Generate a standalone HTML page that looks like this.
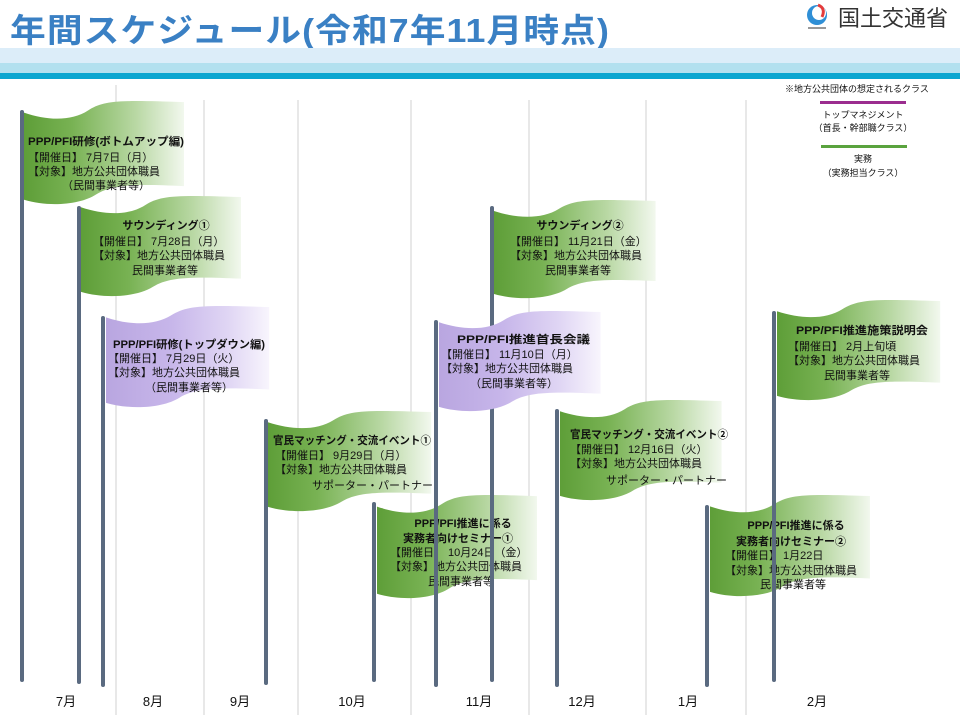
<!DOCTYPE html>
<html><head><meta charset="utf-8"><style>
html,body{margin:0;padding:0;background:#fff;}
svg{display:block;}
text{font-family:"Liberation Sans","Noto Sans CJK JP",sans-serif;fill:#111;}
.t{font-size:11px;font-weight:bold;}
.b{font-size:11px;}
.m{font-size:13px;}
</style></head><body>
<svg width="960" height="720" viewBox="0 0 960 720" xmlns="http://www.w3.org/2000/svg">
<defs>
<linearGradient id="g" x1="0" y1="0" x2="1" y2="0">
<stop offset="0" stop-color="#5e9e38"/><stop offset="0.3" stop-color="#78b253"/><stop offset="0.7" stop-color="#b9d8a4"/><stop offset="1" stop-color="#f2f8ee"/>
</linearGradient>
<linearGradient id="p" x1="0" y1="0" x2="1" y2="0">
<stop offset="0" stop-color="#b9a6e0"/><stop offset="0.4" stop-color="#c7b6ea"/><stop offset="0.75" stop-color="#e0d6f4"/><stop offset="1" stop-color="#f8f5fd"/>
</linearGradient>
<path id="flag" d="M0,12 C24,20 48,20 64,10 C80,0 96,0 160,2 L160,82 C112,80 88,80 72,90 C56,100 24,102 0,95 Z"/>
</defs>
<!-- header -->
<text x="10" y="42" style="font-size:33px;font-weight:bold;fill:#3a80c4;letter-spacing:1px" textLength="600" lengthAdjust="spacingAndGlyphs">年間スケジュール(令和7年11月時点)</text>
<circle cx="817" cy="15" r="10" fill="#2f8fd6"/>
<circle cx="819" cy="13" r="7" fill="#fff"/>
<path d="M818,5 q8,3 4,12" stroke="#e43b3b" stroke-width="3" fill="none"/>
<rect x="808" y="27" width="18" height="2" fill="#999"/>
<text x="838" y="26" style="font-size:22px;fill:#333">国土交通省</text>
<rect x="0" y="48" width="960" height="15" fill="#dcedf9"/>
<rect x="0" y="63" width="960" height="10" fill="#b2e0ef"/>
<rect x="0" y="73" width="960" height="6" fill="#0aa6d0"/>
<!-- legend -->
<text x="785" y="92" style="font-size:9px">※地方公共団体の想定されるクラス</text>
<rect x="820" y="101" width="86" height="3" fill="#9b2d8f"/>
<text x="863" y="118" text-anchor="middle" style="font-size:9px">トップマネジメント</text>
<text x="863" y="131" text-anchor="middle" style="font-size:9px">（首長・幹部職クラス）</text>
<rect x="821" y="145" width="86" height="3" fill="#5aa33e"/>
<text x="863" y="162" text-anchor="middle" style="font-size:9px">実務</text>
<text x="863" y="176" text-anchor="middle" style="font-size:9px">（実務担当クラス）</text>
<!-- grid -->
<g stroke="#d0d0d0" stroke-width="1">
<line x1="116" y1="85" x2="116" y2="715"/><line x1="204" y1="100" x2="204" y2="715"/>
<line x1="298" y1="100" x2="298" y2="715"/><line x1="411" y1="100" x2="411" y2="715"/>
<line x1="529" y1="100" x2="529" y2="715"/><line x1="646" y1="100" x2="646" y2="715"/>
<line x1="746" y1="100" x2="746" y2="715"/>
</g>
<g stroke="#5a6a80" stroke-width="4" stroke-linecap="round">
<!-- F1 -->
<line x1="22" y1="112" x2="22" y2="680"/>
</g>
<use href="#flag" transform="translate(24,100) scale(1,1.05)" fill="url(#g)"/>
<text class="t" x="28" y="145" textLength="156" lengthAdjust="spacingAndGlyphs">PPP/PFI研修(ボトムアップ編)</text>
<text class="b" x="28" y="161">【開催日】 7月7日（月）</text>
<text class="b" x="28" y="175">【対象】地方公共団体職員</text>
<text class="b" x="62" y="189">（民間事業者等）</text>
<!-- F2 -->
<line x1="79" y1="208" x2="79" y2="682" stroke="#5a6a80" stroke-width="4" stroke-linecap="round"/>
<use href="#flag" transform="translate(81,195) scale(1,1.02)" fill="url(#g)"/>
<text class="t" x="166" y="229" text-anchor="middle">サウンディング①</text>
<text class="b" x="93" y="245">【開催日】 7月28日（月）</text>
<text class="b" x="93" y="259">【対象】地方公共団体職員</text>
<text class="b" x="132" y="274">民間事業者等</text>
<!-- F3 -->
<line x1="103" y1="318" x2="103" y2="685" stroke="#5a6a80" stroke-width="4" stroke-linecap="round"/>
<use href="#flag" transform="translate(106,305) scale(1.02,1.03)" fill="url(#p)"/>
<text class="t" x="113" y="348" textLength="152" lengthAdjust="spacingAndGlyphs">PPP/PFI研修(トップダウン編)</text>
<text class="b" x="108" y="362">【開催日】 7月29日（火）</text>
<text class="b" x="108" y="376">【対象】地方公共団体職員</text>
<text class="b" x="145" y="391">（民間事業者等）</text>
<!-- F4 -->
<line x1="266" y1="421" x2="266" y2="683" stroke="#5a6a80" stroke-width="4" stroke-linecap="round"/>
<use href="#flag" transform="translate(268,410) scale(1.02,1.02)" fill="url(#g)"/>
<text class="t" x="273" y="444" textLength="158" lengthAdjust="spacingAndGlyphs">官民マッチング・交流イベント①</text>
<text class="b" x="275" y="459">【開催日】 9月29日（月）</text>
<text class="b" x="275" y="473">【対象】地方公共団体職員</text>
<text class="b" x="312" y="489">サポーター・パートナー</text>
<!-- F5 -->
<line x1="374" y1="504" x2="374" y2="680" stroke="#5a6a80" stroke-width="4" stroke-linecap="round"/>
<use href="#flag" transform="translate(377,494) scale(1,1.05)" fill="url(#g)"/>
<text class="t" x="463" y="527" text-anchor="middle">PPP/PFI推進に係る</text>
<text class="t" x="458" y="542" text-anchor="middle">実務者向けセミナー①</text>
<text class="b" x="390" y="556">【開催日】 10月24日（金）</text>
<text class="b" x="390" y="570">【対象】地方公共団体職員</text>
<text class="b" x="428" y="585">民間事業者等</text>
<!-- F7 -->
<line x1="492" y1="208" x2="492" y2="680" stroke="#5a6a80" stroke-width="4" stroke-linecap="round"/>
<use href="#flag" transform="translate(494,199) scale(1.01,1.0)" fill="url(#g)"/>
<text class="t" x="580" y="229" text-anchor="middle">サウンディング②</text>
<text class="b" x="510" y="245">【開催日】 11月21日（金）</text>
<text class="b" x="510" y="259">【対象】地方公共団体職員</text>
<text class="b" x="545" y="274">民間事業者等</text>
<!-- F6 -->
<line x1="436" y1="322" x2="436" y2="685" stroke="#5a6a80" stroke-width="4" stroke-linecap="round"/>
<use href="#flag" transform="translate(439,310) scale(1.01,1.02)" fill="url(#p)"/>
<text class="t" x="457" y="343" textLength="133" lengthAdjust="spacingAndGlyphs">PPP/PFI推進首長会議</text>
<text class="b" x="441" y="358">【開催日】 11月10日（月）</text>
<text class="b" x="441" y="372">【対象】地方公共団体職員</text>
<text class="b" x="470" y="387">（民間事業者等）</text>
<!-- F8 -->
<line x1="557" y1="411" x2="557" y2="685" stroke="#5a6a80" stroke-width="4" stroke-linecap="round"/>
<use href="#flag" transform="translate(560,399) scale(1.01,1.02)" fill="url(#g)"/>
<text class="t" x="570" y="438" textLength="158" lengthAdjust="spacingAndGlyphs">官民マッチング・交流イベント②</text>
<text class="b" x="570" y="453">【開催日】 12月16日（火）</text>
<text class="b" x="570" y="467">【対象】地方公共団体職員</text>
<text class="b" x="606" y="484">サポーター・パートナー</text>
<!-- F9 -->
<line x1="707" y1="507" x2="707" y2="685" stroke="#5a6a80" stroke-width="4" stroke-linecap="round"/>
<use href="#flag" transform="translate(710,494) scale(1.0,1.03)" fill="url(#g)"/>
<text class="t" x="796" y="529" text-anchor="middle">PPP/PFI推進に係る</text>
<text class="t" x="791" y="545" text-anchor="middle">実務者向けセミナー②</text>
<text class="b" x="725" y="559">【開催日】 1月22日</text>
<text class="b" x="725" y="574">【対象】地方公共団体職員</text>
<text class="b" x="760" y="588">民間事業者等</text>
<!-- F10 -->
<line x1="774" y1="313" x2="774" y2="680" stroke="#5a6a80" stroke-width="4" stroke-linecap="round"/>
<use href="#flag" transform="translate(777,299) scale(1.02,1.02)" fill="url(#g)"/>
<text class="t" x="796" y="334" textLength="132" lengthAdjust="spacingAndGlyphs">PPP/PFI推進施策説明会</text>
<text class="b" x="788" y="350">【開催日】 2月上旬頃</text>
<text class="b" x="788" y="364">【対象】地方公共団体職員</text>
<text class="b" x="824" y="379">民間事業者等</text>
<!-- months -->
<g class="m" text-anchor="middle">
<text class="m" x="66" y="706" text-anchor="middle">7月</text>
<text class="m" x="153" y="706" text-anchor="middle">8月</text>
<text class="m" x="240" y="706" text-anchor="middle">9月</text>
<text class="m" x="352" y="706" text-anchor="middle">10月</text>
<text class="m" x="479" y="706" text-anchor="middle">11月</text>
<text class="m" x="582" y="706" text-anchor="middle">12月</text>
<text class="m" x="688" y="706" text-anchor="middle">1月</text>
<text class="m" x="817" y="706" text-anchor="middle">2月</text>
</g>
</svg>
</body></html>
